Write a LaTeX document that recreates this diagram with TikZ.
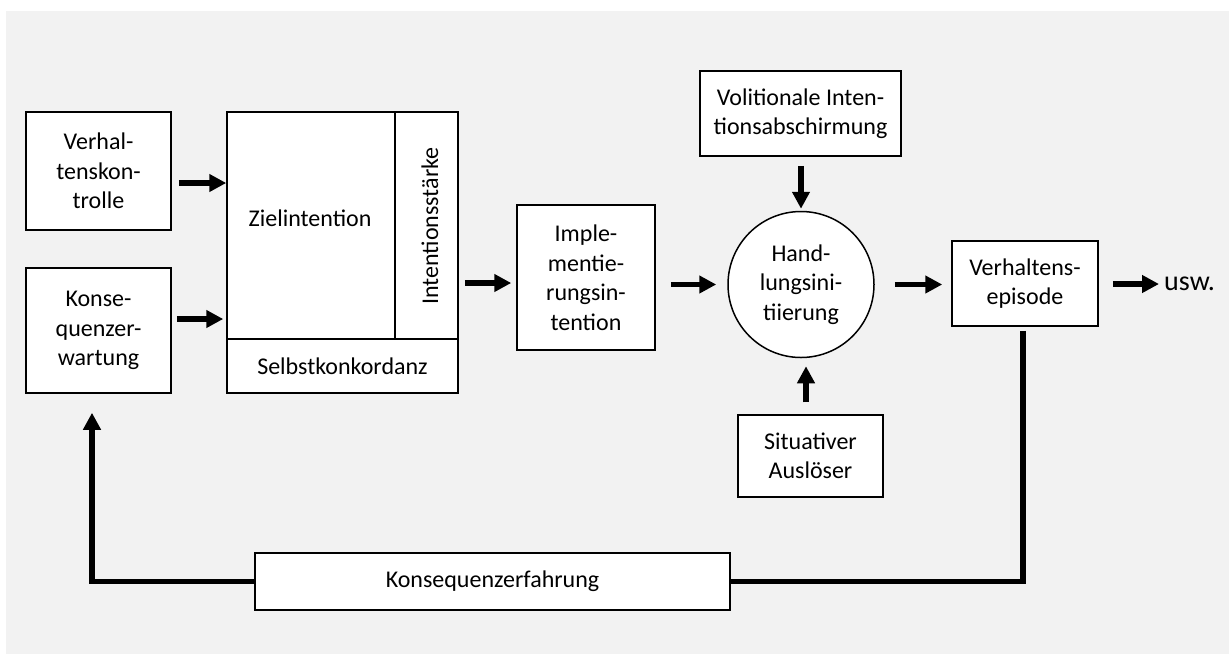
\documentclass[tikz,border=0pt]{standalone}
\usepackage{fontspec}
\setmainfont{Carlito}
\usetikzlibrary{arrows.meta}
\definecolor{panelgray}{HTML}{F2F2F2}
\begin{document}
\begin{tikzpicture}[x=1pt,y=-1pt,
  txt/.style={font=\fontsize{24}{29.5}\selectfont, align=center, inner sep=0pt},
  box/.style={txt, draw, line width=1.5pt, fill=white},
  arr/.style={line width=5.5pt, -{Triangle[length=17pt,width=17pt]}},
  loopline/.style={line width=5.5pt}]
\useasboundingbox (0,0) rectangle (1229,654);
\fill[panelgray] (6,11) rectangle (1229,654);

% input boxes
\node[box, minimum width=145pt, minimum height=118pt] (vk) at (98.5,171) {Verhal-\\tenskon-\\trolle};
\node[box, minimum width=145pt, minimum height=125pt] (ke) at (98.5,330.5) {Konse-\\quenzer-\\wartung};

% goal intention block
\node[box, minimum width=168pt, minimum height=227pt] (zi) at (311,225.5) {};
\node[box, minimum width=63pt, minimum height=227pt] (is) at (426.5,225.5) {};
\node[box, minimum width=231pt, minimum height=54pt] (sk) at (342.5,366) {Selbstkonkordanz};
\node[txt] (zit) at (310,218) {Zielintention};
\node[txt, rotate=90] (ist) at (430,226) {Intentionsstärke};

% implementation and initiation
\node[box, minimum width=138pt, minimum height=145pt] (impl) at (586,277.5) {Imple-\\mentie-\\rungsin-\\tention};
\node[box, circle, minimum size=146pt] (hi) at (801,284.5) {Hand-\\lungsini-\\tiierung};
\node[box, minimum width=201pt, minimum height=85pt] (vol) at (800.5,113.5) {Volitionale Inten-\\tionsabschirmung};
\node[box, minimum width=145pt, minimum height=82pt] (sit) at (810.5,456) {Situativer\\Auslöser};
\node[box, minimum width=146pt, minimum height=85pt] (ve) at (1025,283.5) {Verhaltens-\\episode};
\node[txt, font=\fontsize{28}{32}\selectfont, anchor=west] (usw) at (1164,283.5) {usw.};

% feedback
\node[box, minimum width=475pt, minimum height=57pt] (kf) at (492.5,581.5) {Konsequenzerfahrung};

% connectors
\draw[arr, shorten <=7pt] ([yshift=-12pt]vk.east) -- ([yshift=-12pt]vk.east -| zi.west);
\draw[arr, shorten <=5pt, shorten >=3pt] ([yshift=11.5pt]ke.east) -- ([yshift=11.5pt]ke.east -| zi.west);
\draw[arr, shorten <=6pt, shorten >=5pt] ([yshift=-5.5pt]impl.west -| is.east) -- ([yshift=-5.5pt]impl.west);
\draw[arr, shorten <=15pt, shorten >=11pt] (hi.west -| impl.east) -- (hi.west);
\draw[arr, shorten <=9pt, shorten >=2pt] (hi.north |- vol.south) -- (hi.north);
\draw[arr, shorten <=12pt, shorten >=8pt] ([xshift=5pt]hi.south |- sit.north) -- ([xshift=5pt]hi.south);
\draw[arr, shorten <=20pt, shorten >=9pt] (hi.east) -- (hi.east -| ve.west);
\draw[arr, shorten <=14pt, shorten >=5pt] ([yshift=-0.5pt]ve.east) -- ([yshift=-0.5pt]ve.east -| usw.west);
\draw[loopline, shorten <=4pt] ([xshift=-2pt]ve.south) |- (kf.east);
\draw[arr, shorten >=19pt] (kf.west) -| ([xshift=-6.5pt]ke.south);
\end{tikzpicture}
\end{document}
